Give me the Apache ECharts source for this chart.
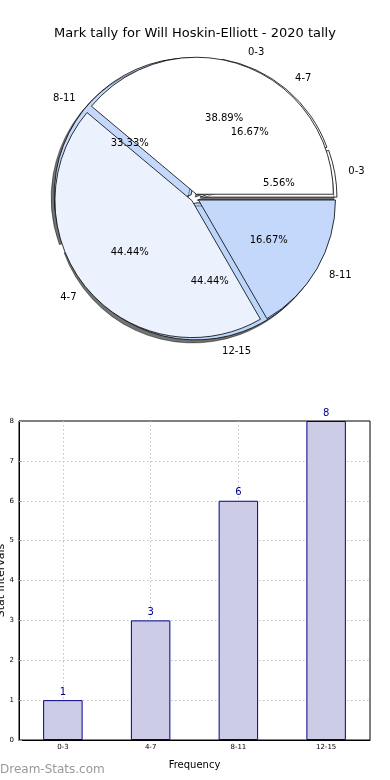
<!DOCTYPE html>
<html><head><meta charset="utf-8">
<script src="https://cdn.jsdelivr.net/npm/echarts@6/dist/echarts.min.js"></script>
<style>html,body{margin:0;padding:0;background:#fff}#c{width:390px;height:780px}</style>
</head><body><div id="c"></div>
<script>
var titleText = 'Mark tally for Will Hoskin-Elliott - 2020 tally';
var categories = ['0-3', '4-7', '8-11', '12-15'];
var counts = [1, 3, 6, 8];
var pieACats = ['0-3', '4-7', '8-11'];
var pieAValues = [7, 8, 3];
var pieAColors = ['#ffffff', '#ebf1fd', '#c4d8fc'];
var pieBColors = ['#ffffff', '#ffffff', '#c4d8fc', '#bcd6fb'];
var yTicks = [0, 1, 2, 3, 4, 5, 6, 7, 8];

var FONT = 'DejaVu Sans';
var CX = 195, CY = 198, R = 137;

function pieData(names, vals, colors, sel) {
  return names.map(function (n, i) {
    return { name: n, value: vals[i], selected: sel, itemStyle: { color: colors ? colors[i] : 'rgba(0,0,0,0)' } };
  });
}
var common = { type: 'pie', center: [CX, CY], startAngle: 0, clockwise: false, animation: false,
  avoidLabelOverlap: false, emphasis: { disabled: true }, silent: true };

var chart = echarts.init(document.getElementById('c'));
chart.setOption({
  animation: false,
  title: { text: titleText, left: 'center', top: 22, textStyle: { fontFamily: FONT, fontSize: 13, fontWeight: 'normal', color: '#000' } },
  grid: { left: 19, right: 20, top: 421, bottom: 40, containLabel: false, outerBoundsMode: 'none',
    show: true, borderColor: '#000', borderWidth: 1, backgroundColor: '#fff' },
  xAxis: {
    type: 'category', data: categories, name: 'Frequency', nameLocation: 'middle', nameGap: 20,
    nameTextStyle: { fontFamily: FONT, fontSize: 10, color: '#000' },
    axisLine: { lineStyle: { color: '#000' } },
    axisTick: { show: false },
    axisLabel: { fontFamily: FONT, fontSize: 7, color: '#000', margin: 4 },
    splitLine: { show: true, alignWithLabel: true, lineStyle: { color: '#c4c4c4', type: [1.5, 2.5] } }
  },
  yAxis: {
    type: 'value', min: 0, max: 8, interval: 1, name: 'Stat intervals', nameLocation: 'middle', nameGap: 12,
    nameMoveOverlap: false,
    nameTextStyle: { fontFamily: FONT, fontSize: 11, color: '#000' },
    axisLine: { show: true, lineStyle: { color: '#000' } },
    axisTick: { show: true, inside: true, length: 3, lineStyle: { color: '#999' } },
    axisLabel: { fontFamily: FONT, fontSize: 7, color: '#000', margin: 5,
      formatter: function (v) { return yTicks.indexOf(v) >= 0 ? String(v) : ''; } },
    splitLine: { show: true, showMinLine: false, showMaxLine: false, lineStyle: { color: '#c4c4c4', type: [1.5, 2.5] } }
  },
  graphic: [{ type: 'text', left: 0, top: 764, style: { text: 'Dream-Stats.com', fontFamily: FONT, fontSize: 12, fontWeight: 'normal', fill: '#999' } }],
  series: [
    Object.assign({}, common, {
      name: 'pieB', radius: [0, R], z: 1, selectedMode: 'multiple', selectedOffset: 5,
      data: pieData(categories, counts, pieBColors, true),
      itemStyle: { borderColor: '#000', borderWidth: 0.8, shadowColor: 'rgba(0,0,0,0.55)', shadowBlur: 0, shadowOffsetX: -3, shadowOffsetY: 3 },
      label: { show: true, position: 'outside', formatter: '{b}', fontFamily: FONT, fontSize: 10, color: '#000', distanceToLabelLine: 0 },
      labelLine: { show: false, length: R * 0.1, length2: 0 }
    }),
    Object.assign({}, common, {
      name: 'pieA', radius: [0, R], z: 2, selectedMode: 'multiple', selectedOffset: 4,
      data: pieData(pieACats, pieAValues, pieAColors, true),
      itemStyle: { borderColor: '#000', borderWidth: 0.8 },
      label: { show: true, position: 'outside', formatter: '{b}', fontFamily: FONT, fontSize: 10, color: '#000', distanceToLabelLine: 0 },
      labelLine: { show: false, length: R * 0.1, length2: 0 }
    }),
    Object.assign({}, common, {
      name: 'pieBpct', radius: [R * 0.2, R], z: 3,
      data: pieData(categories, counts, null, false),
      itemStyle: { color: 'rgba(0,0,0,0)' },
      label: { show: true, position: 'inside', formatter: '{d}%', fontFamily: FONT, fontSize: 10, color: '#000' },
      labelLine: { show: false }
    }),
    Object.assign({}, common, {
      name: 'pieApct', radius: [R * 0.2, R], z: 3,
      data: pieData(pieACats, pieAValues, null, false),
      itemStyle: { color: 'rgba(0,0,0,0)' },
      label: { show: true, position: 'inside', formatter: '{d}%', fontFamily: FONT, fontSize: 10, color: '#000' },
      labelLine: { show: false }
    }),
    {
      type: 'bar', data: counts, barWidth: '45%', z: 5,
      itemStyle: { color: '#cccce6', borderColor: '#00008b', borderWidth: 1 },
      label: { show: true, position: 'top', distance: 3, fontFamily: FONT, fontSize: 10, color: '#00008b' }
    }
  ]
});
</script></body></html>
